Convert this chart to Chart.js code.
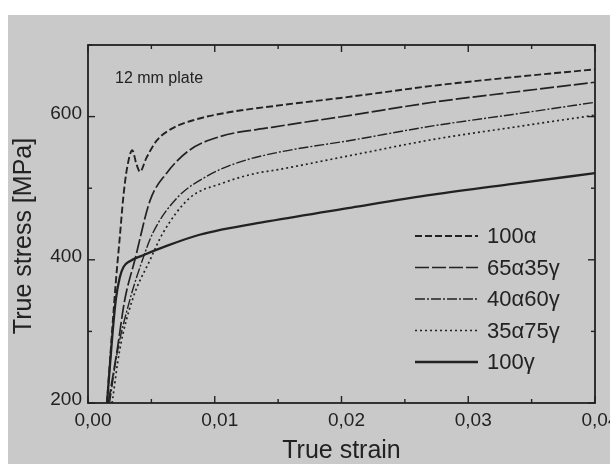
<!DOCTYPE html>
<html>
<head>
<meta charset="utf-8">
<title>True stress vs true strain</title>
<script src="https://cdn.jsdelivr.net/npm/chart.js@4.4.1/dist/chart.umd.min.js"></script>
<style>
  html, body { margin: 0; padding: 0; background: #fff; }
  #wrap { position: absolute; left: 8px; top: 15px; width: 602px; height: 449px; background: #c9c9c9; }
</style>
</head>
<body>
<div id="wrap"><canvas id="stressChart"></canvas></div>
<script>
/* ── data ── */
const xTicks = [0, 0.01, 0.02, 0.03, 0.04];
const xMinor = [0.005, 0.015, 0.025, 0.035];
const yTicks = [200, 400, 600];
const yMinor = [300, 500, 700];

const labels = ['100α', '65α35γ', '40α60γ', '35α75γ', '100γ'];

const strain100a = [0.0015, 0.0019, 0.0022, 0.0025, 0.0028, 0.0031, 0.0035, 0.0038, 0.0041, 0.0046, 0.0054, 0.0067, 0.0085, 0.0111, 0.0148, 0.0208, 0.0272, 0.0335, 0.0400];
const stress100a = [200, 300, 370, 430, 490, 530, 553, 535, 523, 542, 566, 584, 596, 606, 615, 628, 643, 655, 666];

const strain65a = [0.0016, 0.0023, 0.0029, 0.0037, 0.0049, 0.0062, 0.0080, 0.0104, 0.0145, 0.0208, 0.0272, 0.0335, 0.0400];
const stress65a = [200, 274, 344, 400, 483, 521, 553, 572, 585, 602, 620, 634, 648];

const strain40a = [0.0017, 0.0023, 0.0033, 0.0043, 0.0051, 0.0070, 0.0093, 0.0117, 0.0147, 0.0208, 0.0272, 0.0335, 0.0400];
const stress40a = [200, 270, 344, 400, 437, 486, 516, 535, 549, 567, 587, 603, 620];

const strain35a = [0.0019, 0.0025, 0.0035, 0.0049, 0.0059, 0.0080, 0.0106, 0.0133, 0.0147, 0.0208, 0.0272, 0.0335, 0.0400];
const stress35a = [200, 274, 344, 400, 437, 486, 507, 521, 525, 546, 568, 585, 602];

const strain100g = [0.0015, 0.0019, 0.0022, 0.0025, 0.0028, 0.0033, 0.0043, 0.0060, 0.0088, 0.0143, 0.0208, 0.0272, 0.0335, 0.0400];
const stress100g = [200, 290, 345, 375, 390, 398, 406, 418, 435, 454, 473, 491, 506, 521];

const INK = '#222';
const FONT = "'Liberation Sans', Arial, sans-serif";

const pts = (xs, ys) => xs.map((x, i) => ({ x, y: ys[i] }));

function series(i, xs, ys, dash, width) {
  return {
    label: labels[i],
    data: pts(xs, ys),
    borderColor: INK,
    borderWidth: width,
    borderDash: dash,
    pointRadius: 0,
    fill: false,
    cubicInterpolationMode: 'monotone',
  };
}

/* ── frame with inward ticks on all four sides ── */
const frame = {
  id: 'frame',
  afterDatasetsDraw(chart) {
    const { ctx, chartArea: a, scales: { x, y } } = chart;
    const seg = (x1, y1, x2, y2) => { ctx.beginPath(); ctx.moveTo(x1, y1); ctx.lineTo(x2, y2); ctx.stroke(); };
    ctx.save();
    ctx.strokeStyle = INK;
    ctx.lineWidth = 1.8;
    ctx.strokeRect(a.left, a.top, a.width, a.height);
    ctx.lineWidth = 1.4;
    const xt = (v, len) => { const p = x.getPixelForValue(v); seg(p, a.bottom, p, a.bottom - len); seg(p, a.top, p, a.top + len); };
    const yt = (v, len) => { const p = y.getPixelForValue(v); seg(a.left, p, a.left + len, p); seg(a.right, p, a.right - len, p); };
    xTicks.forEach(v => xt(v, 7));
    xMinor.forEach(v => xt(v, 4));
    yTicks.forEach(v => yt(v, 7));
    yMinor.forEach(v => yt(v, 4));
    ctx.restore();
  }
};

/* ── note, y title, legend ── */
const notes = {
  id: 'notes',
  afterDraw(chart) {
    const { ctx, chartArea: a } = chart;
    ctx.save();
    ctx.fillStyle = INK;
    ctx.textBaseline = 'middle';
    ctx.font = '16px ' + FONT;
    ctx.fillText('12 mm plate', a.left + 27, a.top + 34);

    ctx.save();
    ctx.translate(16, a.top + 191);
    ctx.rotate(-Math.PI / 2);
    ctx.textAlign = 'center';
    ctx.font = '25px ' + FONT;
    ctx.fillText('True stress [MPa]', 0, 0);
    ctx.restore();

    ctx.font = '22px ' + FONT;
    chart.data.datasets.forEach((ds, i) => {
      const ly = a.top + 191 + i * 31.5;
      ctx.strokeStyle = ds.borderColor;
      ctx.lineWidth = ds.borderWidth;
      ctx.setLineDash(ds.borderDash || []);
      ctx.beginPath();
      ctx.moveTo(a.left + 327, ly);
      ctx.lineTo(a.left + 390, ly);
      ctx.stroke();
      ctx.fillText(ds.label, a.left + 399, ly + 1);
    });
    ctx.restore();
  }
};

new Chart(document.getElementById('stressChart'), {
  type: 'line',
  data: {
    datasets: [
      series(0, strain100a, stress100a, [7, 3], 1.9),
      series(1, strain65a, stress65a, [14, 3], 1.7),
      series(2, strain40a, stress40a, [10, 2, 2, 2], 1.4),
      series(3, strain35a, stress35a, [2, 3], 1.7),
      series(4, strain100g, stress100g, [], 2.3),
    ]
  },
  options: {
    responsive: true,
    maintainAspectRatio: false,
    animation: false,
    layout: { padding: { left: 0, top: 30, right: 15, bottom: 0 } },
    plugins: { legend: { display: false }, tooltip: { enabled: false } },
    scales: {
      x: {
        type: 'linear', min: 0, max: 0.04,
        afterBuildTicks: s => { s.ticks = xTicks.map(v => ({ value: v })); },
        afterFit: s => { s.height = 61; s.paddingLeft = 0; s.paddingRight = 0; },
        grid: { display: false, drawTicks: false },
        border: { display: false },
        ticks: { padding: 6, labelOffset: 5, color: INK, font: { family: FONT, size: 19 }, maxRotation: 0,
                 callback: v => v.toFixed(2).replace('.', ',') },
        title: { display: true, text: 'True strain', color: INK, padding: { top: 0, bottom: 0 },
                 font: { family: FONT, size: 25, lineHeight: 1 } },
      },
      y: {
        type: 'linear', min: 200, max: 700,
        afterBuildTicks: s => { s.ticks = yTicks.map(v => ({ value: v })); },
        afterFit: s => { s.width = 80; s.paddingTop = 0; s.paddingBottom = 0; },
        grid: { display: false, drawTicks: false },
        border: { display: false },
        ticks: { padding: 6, labelOffset: -3, color: INK, font: { family: FONT, size: 19 } },
      }
    }
  },
  plugins: [frame, notes]
});
</script>
</body>
</html>
